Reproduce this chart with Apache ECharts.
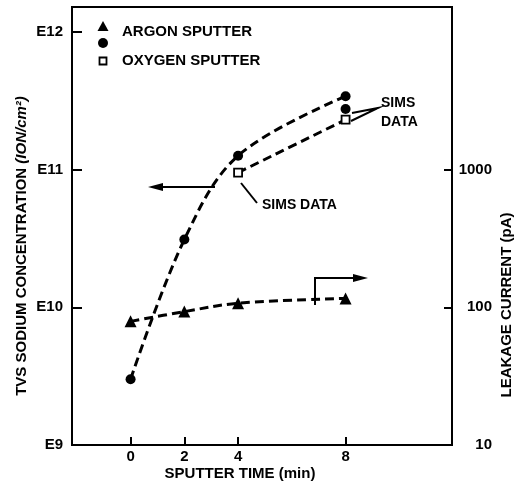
<!DOCTYPE html>
<html>
<head>
<meta charset="utf-8">
<script src="https://cdn.jsdelivr.net/npm/echarts@6/dist/echarts.min.js"></script>
<style>html,body{margin:0;padding:0;background:#fff}#c{width:532px;height:483px}</style>
</head>
<body>
<div id="c"></div>
<script>
// ---- data ----
var sputterTime = [0, 2, 4, 8];
var argonSodium = [3.0e9, 3.1e10, 1.26e11, 3.4e11];      // circles, ION/cm2 (left axis)
var argonLeakage = [79, 93, 107, 116];                     // triangles, pA (right axis)
var oxygenTime = [4, 8];
var oxygenSodium = [9.5e10, 2.3e11];                       // squares, ION/cm2
var simsExtraTime = [8];
var simsExtraSodium = [2.75e11];                           // extra SIMS circle
var xTicks = [0, 2, 4, 8];
var leftTicks = [1e9, 1e10, 1e11, 1e12];
var rightTicks = [10, 100, 1000];

function pairs(xs, ys) { return xs.map(function (x, i) { return [x, ys[i]]; }); }

var FONT = 'Liberation Sans, Arial, Helvetica, sans-serif';
var chart = echarts.init(document.getElementById('c'), null, {renderer: 'canvas'});
var dash = {color: '#000', width: 3, type: [9, 5]};

chart.setOption({
  animation: false,
  backgroundColor: '#fff',
  grid: {left: 72, right: 80, top: 7, bottom: 38, show: true, borderColor: '#000', borderWidth: 2, backgroundColor: 'transparent'},
  xAxis: {
    type: 'value', min: -2.18, max: 11.96,
    axisLine: {onZero: false, lineStyle: {color: '#000', width: 2}},
    axisTick: {inside: true, length: 8, lineStyle: {color: '#000', width: 2}, customValues: xTicks},
    axisLabel: {customValues: xTicks, color: '#000', fontFamily: FONT, fontWeight: 'bold', fontSize: 15, margin: 4},
    splitLine: {show: false}
  },
  yAxis: [{
    type: 'log', position: 'left', min: 1e9, max: Math.pow(10, 12.18),
    axisLine: {show: true, onZero: false, lineStyle: {color: '#000', width: 2}},
    axisTick: {show: true, inside: true, length: 10, lineStyle: {color: '#000', width: 2}, customValues: leftTicks},
    axisLabel: {customValues: leftTicks, color: '#000', fontFamily: FONT, fontWeight: 'bold', fontSize: 15, margin: 9,
      formatter: function (v) { return 'E' + Math.round(Math.log10(v)); }},
    splitLine: {show: false}, minorTick: {show: false}
  }, {
    type: 'log', position: 'right', min: 10, max: Math.pow(10, 4.18),
    axisLine: {show: true, onZero: false, lineStyle: {color: '#000', width: 2}},
    axisTick: {show: true, inside: true, length: 8, lineStyle: {color: '#000', width: 2}, customValues: rightTicks},
    axisLabel: {customValues: rightTicks, color: '#000', fontFamily: FONT, fontWeight: 'bold', fontSize: 15, margin: 40, align: 'right',
      formatter: function (v) { return String(Math.round(v)); }},
    splitLine: {show: false}, minorTick: {show: false}
  }],
  series: [
    {name: 'ARGON SPUTTER sodium', type: 'line', yAxisIndex: 0, data: pairs(sputterTime, argonSodium), smooth: 0.35,
      symbol: 'circle', symbolSize: 10, itemStyle: {color: '#000', opacity: 1}, lineStyle: dash, z: 3},
    {name: 'ARGON SPUTTER leakage', type: 'line', yAxisIndex: 1, data: pairs(sputterTime, argonLeakage), smooth: 0.35,
      symbol: 'triangle', symbolSize: 12, itemStyle: {color: '#000', opacity: 1}, lineStyle: dash, z: 3},
    {name: 'OXYGEN SPUTTER', type: 'line', yAxisIndex: 0, data: pairs(oxygenTime, oxygenSodium), smooth: 0.3,
      symbol: 'rect', symbolSize: 8, itemStyle: {color: '#fff', borderColor: '#000', borderWidth: 1.8, opacity: 1}, lineStyle: dash, z: 4},
    {name: 'SIMS', type: 'scatter', yAxisIndex: 0, data: pairs(simsExtraTime, simsExtraSodium),
      symbol: 'circle', symbolSize: 10, itemStyle: {color: '#000', opacity: 1}, z: 4}
  ],
  graphic: [
    // legend
    {type: 'polygon', shape: {points: [[103, 21], [97.5, 31], [108.5, 31]]}, style: {fill: '#000'}},
    {type: 'circle', shape: {cx: 103, cy: 43, r: 5}, style: {fill: '#000'}},
    {type: 'rect', shape: {x: 99.5, y: 57.5, width: 7, height: 7}, style: {fill: '#fff', stroke: '#000', lineWidth: 1.8}},
    {type: 'text', x: 122, y: 32, style: {text: 'ARGON SPUTTER', fill: '#000', font: 'bold 15px ' + FONT, textVerticalAlign: 'middle'}},
    {type: 'text', x: 122, y: 61, style: {text: 'OXYGEN SPUTTER', fill: '#000', font: 'bold 15px ' + FONT, textVerticalAlign: 'middle'}},
    // left-pointing arrow
    {type: 'line', shape: {x1: 215, y1: 187, x2: 158, y2: 187}, style: {stroke: '#000', lineWidth: 2}},
    {type: 'polygon', shape: {points: [[148, 187], [163, 183], [163, 191]]}, style: {fill: '#000'}},
    // right-pointing arrow
    {type: 'polyline', shape: {points: [[315, 305], [315, 278], [356, 278]]}, style: {stroke: '#000', lineWidth: 2, fill: null}},
    {type: 'polygon', shape: {points: [[368, 278], [353, 274], [353, 282]]}, style: {fill: '#000'}},
    // SIMS DATA (middle)
    {type: 'line', shape: {x1: 241, y1: 183, x2: 257, y2: 203}, style: {stroke: '#000', lineWidth: 2}},
    {type: 'text', x: 262, y: 205, style: {text: 'SIMS DATA', fill: '#000', font: 'bold 14px ' + FONT, textVerticalAlign: 'middle'}},
    // SIMS DATA (top right)
    {type: 'polyline', shape: {points: [[352, 113], [378, 108], [351, 121]]}, style: {stroke: '#000', lineWidth: 2, fill: null}},
    {type: 'text', x: 381, y: 103, style: {text: 'SIMS', fill: '#000', font: 'bold 14px ' + FONT, textVerticalAlign: 'middle'}},
    {type: 'text', x: 381, y: 122, style: {text: 'DATA', fill: '#000', font: 'bold 14px ' + FONT, textVerticalAlign: 'middle'}},
    // axis titles
    {type: 'text', x: 22, y: 246, rotation: Math.PI / 2,
      style: {text: '{a|TVS SODIUM CONCENTRATION }{b|(ION/cm²)}', textAlign: 'center', textVerticalAlign: 'middle', fill: '#000',
        rich: {a: {font: 'bold 15px ' + FONT, fill: '#000'}, b: {font: 'italic bold 15px ' + FONT, fill: '#000'}}}},
    {type: 'text', x: 507, y: 305, rotation: Math.PI / 2,
      style: {text: 'LEAKAGE CURRENT (pA)', textAlign: 'center', textVerticalAlign: 'middle', fill: '#000', font: 'bold 15px ' + FONT}},
    {type: 'text', x: 240, y: 474,
      style: {text: 'SPUTTER TIME (min)', textAlign: 'center', textVerticalAlign: 'middle', fill: '#000', font: 'bold 15px ' + FONT}}
  ]
});
</script>
</body>
</html>
